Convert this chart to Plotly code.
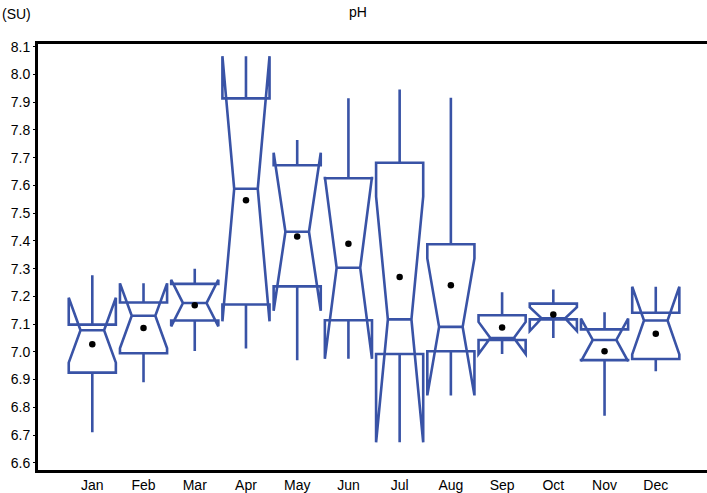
"""Monthly pH notched box plot (SU)."""

import plotly.graph_objects as go

# -- Data ----------------------------------------------------------------------
months = ["Jan", "Feb", "Mar", "Apr", "May", "Jun",
          "Jul", "Aug", "Sep", "Oct", "Nov", "Dec"]
q1 = [6.925, 6.995, 7.113, 7.171, 7.236, 7.114, 6.992, 7.002, 7.043, 7.117, 6.970, 6.974]
median = [7.078, 7.130, 7.176, 7.588, 7.433, 7.303, 7.117, 7.090, 7.050, 7.118, 7.043, 7.113]
q3 = [7.098, 7.178, 7.245, 7.914, 7.673, 7.626, 7.682, 7.388, 7.132, 7.174, 7.081, 7.141]
lower = [6.710, 6.890, 7.003, 7.012, 6.970, 7.083, 6.780, 6.930, 7.000, 7.050, 6.770, 6.930]
upper = [7.276, 7.195, 7.300, 8.016, 7.764, 7.914, 7.946, 7.916, 7.215, 7.225, 7.143, 7.165]
notch = [0.117, 0.117, 0.084, 0.478, 0.285, 0.328, 0.443, 0.247, 0.058, 0.043, 0.077, 0.122]
means = [7.027, 7.086, 7.168, 7.547, 7.416, 7.390, 7.270, 7.240, 7.088, 7.135, 7.002, 7.065]
y_ticks = [6.6, 6.7, 6.8, 6.9, 7.0, 7.1, 7.2, 7.3, 7.4, 7.5, 7.6, 7.7, 7.8, 7.9, 8.0, 8.1]

BLUE = "#3953a6"
FONT = "Liberation Sans, Arial, sans-serif"

fig = go.Figure()

# -- Notched boxes -------------------------------------------------------------
fig.add_trace(go.Box(
    x=months,
    q1=q1, median=median, q3=q3,
    lowerfence=lower, upperfence=upper,
    notchspan=notch,
    notched=True,
    notchwidth=0.25,
    width=0.92,
    whiskerwidth=0,
    line=dict(color=BLUE, width=2.6),
    fillcolor="rgba(0,0,0,0)",
    boxpoints=False,
    showlegend=False,
    hoverinfo="skip",
))

# -- Means ---------------------------------------------------------------------
fig.add_trace(go.Scatter(
    x=months, y=means,
    mode="markers",
    marker=dict(color="black", size=6.5),
    showlegend=False,
    hoverinfo="skip",
))

# -- Layout --------------------------------------------------------------------
fig.update_layout(
    width=707, height=493,
    margin=dict(l=38, r=0, t=44, b=23, autoexpand=False),
    paper_bgcolor="white",
    plot_bgcolor="white",
    font=dict(family=FONT, size=14, color="black"),
    title=dict(text="pH", x=358 / 707, xanchor="center", y=0.975, yanchor="middle",
               font=dict(family=FONT, size=14, color="black")),
    xaxis=dict(
        type="category",
        range=[-1.06, 12.0],
        automargin=False,
        showline=True, linewidth=3, linecolor="black", mirror=True,
        showgrid=False, zeroline=False,
        ticks="", tickfont=dict(size=14),
    ),
    yaxis=dict(
        range=[6.574, 8.11],
        automargin=False,
        tickvals=y_ticks,
        tickformat=".1f",
        showline=True, linewidth=3, linecolor="black",
        showgrid=False, zeroline=False,
        ticks="outside", ticklen=2, tickwidth=1, tickcolor="black",
        tickfont=dict(size=14),
    ),
    annotations=[dict(
        text="(SU)", xref="paper", yref="paper",
        x=-38 / 669, y=1 + 30 / 426, xanchor="left", yanchor="middle",
        showarrow=False, font=dict(family=FONT, size=14, color="black"),
    )],
)

# page body has a default margin; drop it so the figure fills the window
fig.write_html(
    "out.html",
    config={"displayModeBar": False},
    post_script="document.body.style.margin='0';",
)
